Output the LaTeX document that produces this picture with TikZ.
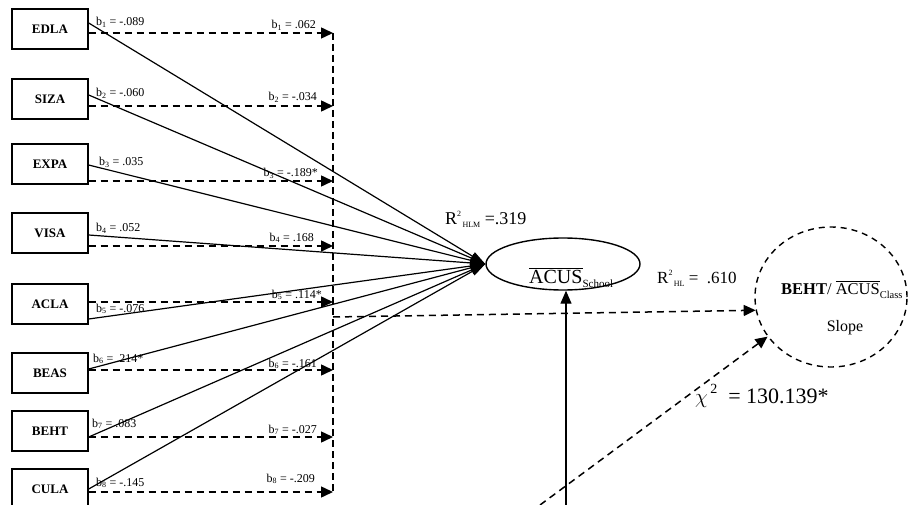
\documentclass[tikz,border=0pt]{standalone}
\usepackage{fontspec}
\setmainfont{Liberation Serif}
\usetikzlibrary{arrows.meta,shapes.geometric,calc}
\begin{document}
\begin{tikzpicture}[x=1pt,y=-1pt,
  box/.style={draw, line width=1.4pt, minimum width=76pt, minimum height=40pt, inner sep=0pt, font=\fontsize{13}{13}\selectfont\bfseries},
  coefl/.style={anchor=base west, inner sep=0pt, font=\fontsize{12}{12}\selectfont},
  coefr/.style={anchor=base east, inner sep=0pt, font=\fontsize{12}{12}\selectfont},
  solidarr/.style={line width=1.2pt, -{Triangle[length=15pt,width=9pt]}},
  dasharr/.style={line width=1.5pt, dash pattern=on 7pt off 5pt, -{Triangle[length=12pt,width=11pt]}},
  dline/.style={line width=1.5pt, dash pattern=on 7pt off 4pt},
  lbl/.style={inner sep=0pt, anchor=base west},
]
\useasboundingbox (0,0) rectangle (910,505);

% boxes
\node[box] (EDLA) at (50,29) {EDLA};
\node[box] (SIZA) at (50,99) {SIZA};
\node[box] (EXPA) at (50,164) {EXPA};
\node[box] (VISA) at (50,233) {VISA};
\node[box] (ACLA) at (50,304) {ACLA};
\node[box] (BEAS) at (50,373) {BEAS};
\node[box] (BEHT) at (50,431) {BEHT};
\node[box] (CULA) at (50,489) {CULA};

% ellipses
\node[ellipse, draw, line width=1.4pt, minimum width=154pt, minimum height=52pt, inner sep=0pt] (acus) at (563,264) {};
\node[lbl] (acuslbl) at (529,283) {\fontsize{20}{20}\selectfont$\overline{\hbox{ACUS}}$\raisebox{-4pt}{\fontsize{11}{11}\selectfont School}};

\node[ellipse, draw, line width=1.4pt, dash pattern=on 6pt off 5pt, minimum width=152pt, minimum height=140pt, inner sep=0pt] (slope) at (831,297) {};
\node[lbl] (slopelbl1) at (781,294) {\fontsize{16.5}{16.5}\selectfont\textbf{BEHT}/ $\overline{\hbox{ACUS}}$\raisebox{-4pt}{\fontsize{10.5}{10.5}\selectfont Class}};
\node[inner sep=0pt, anchor=base] (slopelbl2) at (845,331) {\fontsize{16}{16}\selectfont Slope};

% vertical dashed collector
\coordinate (vx) at (333,0);

% dashed arrows to collector
\draw[dasharr] ($(EDLA.east)+(0,4)$) coordinate (sEDLA) -- (sEDLA -| vx);
\draw[dasharr] ($(SIZA.east)+(0,7)$) coordinate (sSIZA) -- (sSIZA -| vx);
\draw[dasharr] ($(EXPA.east)+(0,17)$) coordinate (sEXPA) -- (sEXPA -| vx);
\draw[dasharr] ($(VISA.east)+(0,13)$) coordinate (sVISA) -- (sVISA -| vx);
\draw[dasharr] ($(ACLA.east)+(0,-2)$) coordinate (sACLA) -- (sACLA -| vx);
\draw[dasharr] ($(BEAS.east)+(0,-3)$) coordinate (sBEAS) -- (sBEAS -| vx);
\draw[dasharr] ($(BEHT.east)+(0,6)$) coordinate (sBEHT) -- (sBEHT -| vx);
\draw[dasharr] ($(CULA.east)+(0,3)$) coordinate (sCULA) -- (sCULA -| vx);
\draw[dline] (sEDLA -| vx) -- (sCULA -| vx);

% solid arrows to ACUS
\draw[solidarr] ($(EDLA.east)+(0,-6)$) -- (acus.west);
\draw[solidarr] ($(SIZA.east)+(0,-4)$) -- (acus.west);
\draw[solidarr] ($(EXPA.east)+(0,1)$) -- (acus.west);
\draw[solidarr] ($(VISA.east)+(0,2)$) -- (acus.west);
\draw[solidarr] ($(ACLA.east)+(0,15)$) -- (acus.west);
\draw[solidarr] ($(BEAS.east)+(0,-4)$) -- (acus.west);
\draw[solidarr] ($(BEHT.east)+(0,6)$) -- (acus.west);
\draw[solidarr] ($(CULA.east)+(0,0)$) -- (acus.west);

% branch to slope
\coordinate (br) at (333,317);
\draw[dasharr] (br) -- (slope.190);

% bottom arrows
\coordinate (vb) at (566,505);
\draw[line width=1.2pt, -{Triangle[length=13pt,width=11pt]}] (vb) -- (vb |- acus.south);
\coordinate (db) at (540,505);
\draw[dasharr] (db) -- (slope.212);

% left coefficients
\node[coefl] (l1) at (96,26) {b\textsubscript{1} = -.089};
\node[coefl] (l2) at (96,97) {b\textsubscript{2} = -.060};
\node[coefl] (l3) at (99,166) {b\textsubscript{3} = .035};
\node[coefl] (l4) at (96,232) {b\textsubscript{4} = .052};
\node[coefl] (l5) at (96,312) {b\textsubscript{5} = -.076};
\node[coefl] (l6) at (93,362) {b\textsubscript{6} = .214*};
\node[coefl] (l7) at (92,427) {b\textsubscript{7} = .083};
\node[coefl] (l8) at (96,486) {b\textsubscript{8} = -.145};

% right coefficients
\node[coefr] (r1) at (316,29) {b\textsubscript{1} = .062};
\node[coefr] (r2) at (317,101) {b\textsubscript{2} = -.034};
\node[coefr] (r3) at (318,177) {b\textsubscript{3} = -.189*};
\node[coefr] (r4) at (314,241) {b\textsubscript{4} = .168};
\node[coefr] (r5) at (322,298) {b\textsubscript{5} = .114*};
\node[coefr] (r6) at (317,367) {b\textsubscript{6} = -.161};
\node[coefr] (r7) at (317,433) {b\textsubscript{7} = -.027};
\node[coefr] (r8) at (315,482) {b\textsubscript{8} = -.209};

% statistics
\node[lbl] (r2a) at (445,225) {\fontsize{18}{18}\selectfont R\raisebox{8pt}{\fontsize{8}{8}\selectfont 2}\raisebox{-3pt}{\fontsize{8}{8}\selectfont\,HLM} =.319};
\node[lbl] (r2b) at (657,283) {\fontsize{17}{17}\selectfont R\raisebox{8pt}{\fontsize{8}{8}\selectfont 2}\raisebox{-3pt}{\fontsize{8}{8}\selectfont\,HL} =\ \ .610};
\node[lbl] (chi) at (695,403) {\fontsize{22}{22}\selectfont $\chi$\raisebox{10pt}{\fontsize{14}{14}\selectfont\,2}\ \ = 130.139*};
\end{tikzpicture}
\end{document}
